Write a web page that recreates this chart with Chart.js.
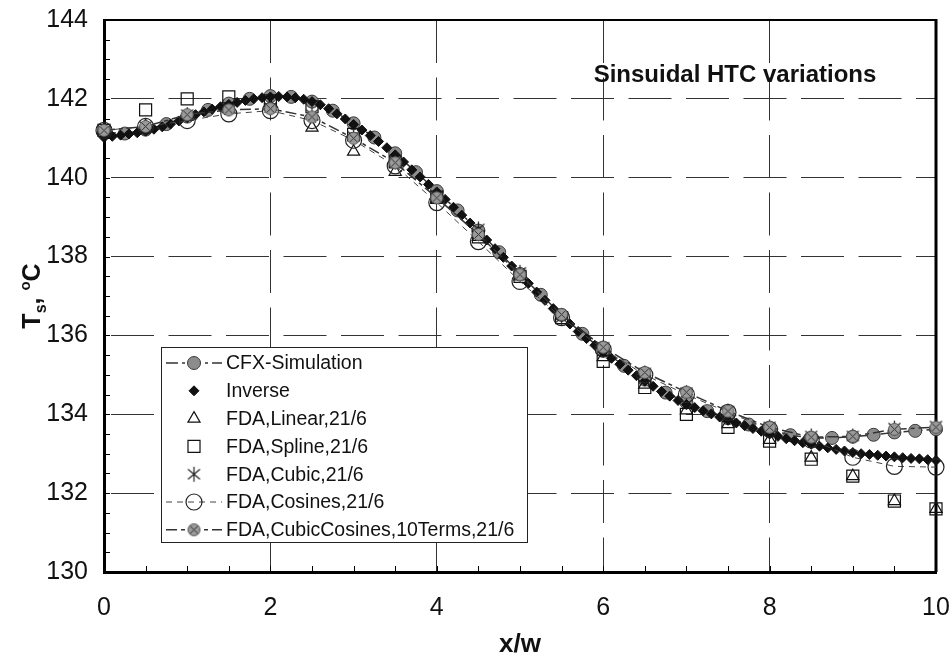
<!DOCTYPE html>
<html>
<head>
<meta charset="utf-8">
<script src="https://cdn.jsdelivr.net/npm/chart.js"></script>
<style>
  html, body { margin: 0; padding: 0; background: #fff; }
  canvas { display: block; }
</style>
</head>
<body>
<canvas id="myChart" width="952" height="661"></canvas>
<script>
// x/w の位置
var xFda = [0, 0.5, 1, 1.5, 2, 2.5, 3, 3.5, 4, 4.5, 5, 5.5, 6, 6.5, 7, 7.5, 8, 8.5, 9, 9.5, 10];
var xCfx = [0, 0.25, 0.5, 0.75, 1, 1.25, 1.5, 1.75, 2, 2.25, 2.5, 2.75, 3, 3.25, 3.5, 3.75, 4, 4.25, 4.5, 4.75,
            5, 5.25, 5.5, 5.75, 6, 6.25, 6.5, 6.75, 7, 7.25, 7.5, 7.75, 8, 8.25, 8.5, 8.75, 9, 9.25, 9.5, 9.75, 10];
var xInv = [0, 0.1, 0.2, 0.3, 0.4, 0.5, 0.6, 0.7, 0.8, 0.9, 1, 1.1, 1.2, 1.3, 1.4, 1.5, 1.6, 1.7, 1.8, 1.9,
            2, 2.1, 2.2, 2.3, 2.4, 2.5, 2.6, 2.7, 2.8, 2.9, 3, 3.1, 3.2, 3.3, 3.4, 3.5, 3.6, 3.7, 3.8, 3.9,
            4, 4.1, 4.2, 4.3, 4.4, 4.5, 4.6, 4.7, 4.8, 4.9, 5, 5.1, 5.2, 5.3, 5.4, 5.5, 5.6, 5.7, 5.8, 5.9,
            6, 6.1, 6.2, 6.3, 6.4, 6.5, 6.6, 6.7, 6.8, 6.9, 7, 7.1, 7.2, 7.3, 7.4, 7.5, 7.6, 7.7, 7.8, 7.9,
            8, 8.1, 8.2, 8.3, 8.4, 8.5, 8.6, 8.7, 8.8, 8.9, 9, 9.1, 9.2, 9.3, 9.4, 9.5, 9.6, 9.7, 9.8, 9.9, 10];

// 表面温度 Ts [°C]
var cfx = [141.15, 141.12, 141.22, 141.36, 141.55, 141.72, 141.88, 142.00, 142.07, 142.05,
           141.93, 141.70, 141.38, 141.02, 140.62, 140.14, 139.66, 139.17, 138.66, 138.11,
           137.56, 137.03, 136.52, 136.04, 135.62, 135.23, 134.88, 134.55, 134.30, 134.08,
           133.90, 133.74, 133.58, 133.47, 133.40, 133.40, 133.43, 133.48, 133.54, 133.58, 133.62];
var inverse = [141.02, 141.05, 141.08, 141.11, 141.14, 141.18, 141.23, 141.29, 141.36, 141.44,
               141.52, 141.60, 141.67, 141.74, 141.80, 141.86, 141.91, 141.96, 142.00, 142.03,
               142.05, 142.06, 142.05, 142.03, 141.99, 141.93, 141.85, 141.75, 141.62, 141.49,
               141.35, 141.21, 141.07, 140.92, 140.76, 140.58, 140.40, 140.20, 140.02, 139.83,
               139.64, 139.45, 139.25, 139.05, 138.85, 138.64, 138.42, 138.20, 137.98, 137.76,
               137.54, 137.32, 137.10, 136.89, 136.68, 136.48, 136.29, 136.10, 135.92, 135.75,
               135.58, 135.42, 135.27, 135.12, 134.98, 134.84, 134.71, 134.58, 134.46, 134.35,
               134.25, 134.17, 134.09, 134.01, 133.93, 133.85, 133.78, 133.71, 133.64, 133.57,
               133.50, 133.44, 133.38, 133.33, 133.28, 133.24, 133.19, 133.15, 133.11, 133.07,
               133.03, 133.00, 132.98, 132.96, 132.94, 132.92, 132.90, 132.88, 132.87, 132.85, 132.83];
var fdaLinear   = [141.2, 141.3, 141.55, 141.75, 141.8, 141.27, 140.66, 140.15, 139.45, 138.5,
                   137.5, 136.5, 135.45, 134.75, 134.1, 133.75, 133.35, 132.9, 132.43, 131.8, 131.6];
var fdaSpline   = [141.2, 141.72, 142.0, 142.05, 141.95, 141.8, 141.1, 140.4, 139.5, 138.5,
                   137.5, 136.45, 135.34, 134.68, 134.0, 133.67, 133.32, 132.86, 132.43, 131.8, 131.6];
var fdaCubic    = [141.2, 141.3, 141.6, 141.75, 141.78, 141.6, 141.05, 140.4, 139.55, 138.7,
                   137.6, 136.45, 135.7, 135.05, 134.55, 134.08, 133.68, 133.45, 133.45, 133.65, 133.7];
var fdaCosines  = [141.2, 141.3, 141.45, 141.62, 141.7, 141.45, 140.95, 140.3, 139.37, 138.38,
                   137.37, 136.45, 135.65, 135.0, 134.5, 134.05, 133.62, 133.35, 132.91, 132.68, 132.66];
var fdaCubicCos = [141.2, 141.3, 141.6, 141.72, 141.75, 141.54, 141.0, 140.38, 139.49, 138.56,
                   137.54, 136.53, 135.7, 135.06, 134.56, 134.08, 133.67, 133.42, 133.44, 133.62, 133.67];

var seriesNames = ['CFX-Simulation', 'Inverse', 'FDA,Linear,21/6', 'FDA,Spline,21/6', 'FDA,Cubic,21/6',
                   'FDA,Cosines,21/6', 'FDA,CubicCosines,10Terms,21/6'];
var chartTitle = 'Sinsuidal HTC variations';

var FONT = '"Liberation Sans", Arial, sans-serif';

function pts(xs, ys) {
  return xs.map(function(x, i) { return { x: x, y: ys[i] }; });
}

// アスタリスク型マーカー
function makeStar() {
  var c = document.createElement('canvas');
  c.width = 17; c.height = 17;
  var g = c.getContext('2d');
  g.strokeStyle = '#222';
  g.lineWidth = 1.2;
  g.beginPath();
  g.moveTo(2.5, 3.5); g.lineTo(14.5, 13.5);
  g.moveTo(14.5, 3.5); g.lineTo(2.5, 13.5);
  g.moveTo(8.5, 1); g.lineTo(8.5, 16);
  g.stroke();
  return c;
}
// 灰色の丸にX
function makeGrayX() {
  var c = document.createElement('canvas');
  c.width = 15; c.height = 15;
  var g = c.getContext('2d');
  g.fillStyle = '#9a9a9a';
  g.strokeStyle = '#555';
  g.lineWidth = 1;
  g.beginPath();
  g.arc(7.5, 7.5, 6, 0, Math.PI * 2);
  g.fill();
  g.stroke();
  g.strokeStyle = '#333';
  g.beginPath();
  g.moveTo(3.5, 3.5); g.lineTo(11.5, 11.5);
  g.moveTo(11.5, 3.5); g.lineTo(3.5, 11.5);
  g.stroke();
  return c;
}
var starImg = makeStar();
var grayXImg = makeGrayX();
var clear = 'rgba(0,0,0,0)';

var datasets = [
  { label: seriesNames[0], data: pts(xCfx, cfx), order: 7, showLine: true,
    borderColor: '#333', borderWidth: 1.5, borderDash: [12, 4, 3, 4],
    pointStyle: 'circle', pointRadius: 6.5, pointBackgroundColor: '#8c8c8c',
    pointBorderColor: '#3a3a3a', pointBorderWidth: 1 },
  { label: seriesNames[1], data: pts(xInv, inverse), order: 6, showLine: false,
    pointStyle: 'rectRot', pointRadius: 5, pointBackgroundColor: '#111',
    pointBorderColor: '#111', pointBorderWidth: 1 },
  { label: seriesNames[2], data: pts(xFda, fdaLinear), order: 5, showLine: false,
    pointStyle: 'triangle', pointRadius: 7, pointBackgroundColor: clear,
    pointBorderColor: '#111', pointBorderWidth: 1.2 },
  { label: seriesNames[3], data: pts(xFda, fdaSpline), order: 4, showLine: false,
    pointStyle: 'rect', pointRadius: 8.5, pointBackgroundColor: clear,
    pointBorderColor: '#111', pointBorderWidth: 1.2 },
  { label: seriesNames[4], data: pts(xFda, fdaCubic), order: 3, showLine: false,
    pointStyle: starImg, pointRadius: 6 },
  { label: seriesNames[5], data: pts(xFda, fdaCosines), order: 2, showLine: true,
    borderColor: '#444', borderWidth: 1, borderDash: [6, 5],
    pointStyle: 'circle', pointRadius: 8, pointBackgroundColor: clear,
    pointBorderColor: '#222', pointBorderWidth: 1.2 },
  { label: seriesNames[6], data: pts(xFda, fdaCubicCos), order: 1, showLine: true,
    borderColor: '#333', borderWidth: 1.5, borderDash: [11, 4, 4, 4],
    pointStyle: grayXImg, pointRadius: 6 }
];

// 枠線と内向きの目盛り
var frameTicks = {
  id: 'frameTicks',
  beforeDatasetsDraw: function(chart) {
    var ctx = chart.ctx, a = chart.chartArea;
    var xs = chart.scales.x, ys = chart.scales.y;
    ctx.save();
    ctx.strokeStyle = '#000';
    ctx.lineWidth = 1;
    ctx.beginPath();
    for (var v = xs.min; v <= xs.max + 1e-9; v += 0.5) {
      var px = Math.round(xs.getPixelForValue(v)) + 0.5;
      ctx.moveTo(px, a.bottom);
      ctx.lineTo(px, a.bottom - 6);
    }
    for (var w = ys.min; w <= ys.max + 1e-9; w += 0.5) {
      var py = Math.round(ys.getPixelForValue(w)) + 0.5;
      ctx.moveTo(a.left, py);
      ctx.lineTo(a.left + 6, py);
    }
    ctx.stroke();
    ctx.lineWidth = 2;
    ctx.beginPath();
    ctx.moveTo(a.left, a.top);
    ctx.lineTo(a.right, a.top);
    ctx.stroke();
    ctx.lineWidth = 3;
    ctx.beginPath();
    ctx.moveTo(a.right, a.top - 1);
    ctx.lineTo(a.right, a.bottom);
    ctx.stroke();
    ctx.restore();
  }
};

// タイトル・軸ラベル・凡例
var overlay = {
  id: 'overlay',
  afterDatasetsDraw: function(chart) {
    var ctx = chart.ctx, a = chart.chartArea;
    ctx.save();
    ctx.fillStyle = '#111';

    ctx.font = 'bold 24px ' + FONT;
    ctx.textAlign = 'center';
    ctx.textBaseline = 'middle';
    ctx.fillText(chartTitle, 735, 75);

    ctx.font = 'bold 26px ' + FONT;
    ctx.fillText('x/w', (a.left + a.right) / 2, 645);

    // Ts, °C (縦書き)
    ctx.translate(31, (a.top + a.bottom) / 2);
    ctx.rotate(-Math.PI / 2);
    var parts = [
      { t: 'T', f: 'bold 25px ' + FONT, dy: 0 },
      { t: 's', f: 'bold 16px ' + FONT, dy: 6 },
      { t: ', ', f: 'bold 25px ' + FONT, dy: 0 },
      { t: 'o', f: 'bold 15px ' + FONT, dy: -10 },
      { t: 'C', f: 'bold 25px ' + FONT, dy: 0 }
    ];
    var total = 0;
    parts.forEach(function(p) { ctx.font = p.f; p.w = ctx.measureText(p.t).width; total += p.w; });
    ctx.textAlign = 'left';
    ctx.textBaseline = 'alphabetic';
    var cx = -total / 2;
    parts.forEach(function(p) { ctx.font = p.f; ctx.fillText(p.t, cx, 9 + p.dy); cx += p.w; });
    ctx.restore();

    // 凡例
    var bx = 161, by = 347, bw = 366, bh = 195, rowH = 27.8;
    ctx.save();
    ctx.fillStyle = '#fff';
    ctx.fillRect(bx, by, bw, bh);
    ctx.strokeStyle = '#222';
    ctx.lineWidth = 1;
    ctx.strokeRect(bx + 0.5, by + 0.5, bw, bh);
    chart.data.datasets.forEach(function(ds, i) {
      var y = by + 16 + i * rowH;
      if (ds.showLine) {
        ctx.save();
        ctx.strokeStyle = ds.borderColor;
        ctx.lineWidth = ds.borderWidth;
        ctx.setLineDash(ds.borderDash || []);
        ctx.beginPath();
        ctx.moveTo(166, y);
        ctx.lineTo(222, y);
        ctx.stroke();
        ctx.restore();
      }
      ctx.save();
      ctx.fillStyle = ds.pointBackgroundColor || clear;
      ctx.strokeStyle = ds.pointBorderColor || '#111';
      ctx.lineWidth = ds.pointBorderWidth || 1;
      Chart.helpers.drawPoint(ctx, {
        pointStyle: ds.pointStyle, radius: ds.pointRadius, rotation: 0,
        borderWidth: ds.pointBorderWidth || 0
      }, 194, y);
      ctx.restore();
      ctx.fillStyle = '#111';
      ctx.font = '19.5px ' + FONT;
      ctx.textAlign = 'left';
      ctx.textBaseline = 'middle';
      ctx.fillText(ds.label, 226, y + 1);
    });
    ctx.restore();
  }
};

// 目盛りラベルのはみ出し分の余白は使わない
function noOverflow(s) {
  s.paddingLeft = 0;
  s.paddingRight = 0;
  s.paddingTop = 0;
  s.paddingBottom = 0;
}

var canvas = document.getElementById('myChart');
var ctx = canvas.getContext('2d');
var myChart = new Chart(ctx, {
  type: 'scatter',
  data: { datasets: datasets },
  options: {
    responsive: false,
    animation: false,
    events: [],
    clip: false,
    layout: { padding: { top: 20, right: 16, left: 0, bottom: 0 } },
    plugins: { legend: { display: false }, tooltip: { enabled: false } },
    scales: {
      x: {
        type: 'linear', min: 0, max: 10,
        afterFit: function(s) { s.height = 89; noOverflow(s); },
        ticks: { stepSize: 2, padding: 21, color: '#111', font: { family: FONT, size: 25 } },
        grid: { color: '#333', lineWidth: 1, drawTicks: false },
        border: { color: '#000', width: 3, dash: [43, 14.5], dashOffset: 0 }
      },
      y: {
        type: 'linear', min: 130, max: 144,
        afterFit: function(s) { s.width = 104; noOverflow(s); },
        ticks: { stepSize: 2, padding: 16, color: '#111', font: { family: FONT, size: 25 } },
        grid: { color: '#333', lineWidth: 1, drawTicks: false },
        border: { color: '#000', width: 3, dash: [43, 14.5], dashOffset: -5 }
      }
    }
  },
  plugins: [frameTicks, overlay]
});
</script>
</body>
</html>
